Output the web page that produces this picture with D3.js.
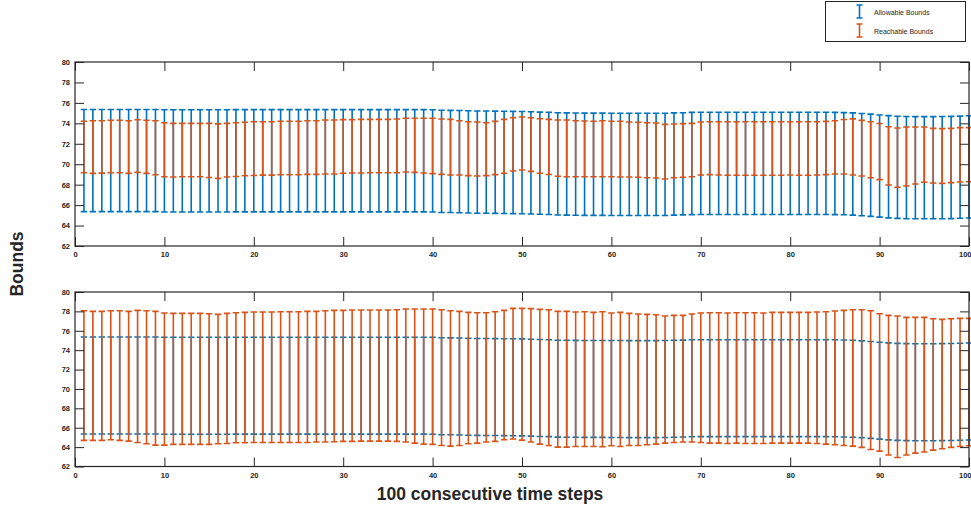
<!DOCTYPE html>
<html>
<head>
<meta charset="utf-8">
<script src="https://cdn.jsdelivr.net/npm/d3@7"></script>
<style>
  html, body { margin: 0; padding: 0; background: #ffffff; }
  svg { display: block; }
  text { font-family: "Liberation Sans", Arial, Helvetica, sans-serif; }
</style>
</head>
<body>
<svg id="chart" width="971" height="515"></svg>
<script>
// ---------------- DATA ----------------
const timeSteps = d3.range(1, 101);

const allowableUpper = [
  75.36,75.36,75.36,75.36,75.36,75.36,75.36,75.36,75.36,75.33,
  75.33,75.33,75.33,75.33,75.33,75.33,75.33,75.34,75.34,75.34,
  75.34,75.34,75.34,75.34,75.34,75.34,75.34,75.34,75.34,75.34,
  75.34,75.34,75.34,75.34,75.34,75.34,75.34,75.34,75.34,75.33,
  75.28,75.27,75.25,75.23,75.21,75.20,75.19,75.18,75.17,75.16,
  75.13,75.10,75.08,75.03,75.02,75.01,75.00,75.00,75.00,74.99,
  74.99,74.98,74.98,74.98,74.98,74.99,75.02,75.04,75.07,75.08,
  75.08,75.08,75.08,75.08,75.08,75.08,75.08,75.08,75.08,75.08,
  75.08,75.08,75.08,75.08,75.07,75.05,75.02,74.96,74.90,74.82,
  74.75,74.70,74.67,74.66,74.66,74.66,74.67,74.68,74.71,74.74
];
const allowableLower = [
  65.36,65.36,65.36,65.36,65.36,65.36,65.36,65.36,65.36,65.33,
  65.33,65.33,65.33,65.33,65.33,65.33,65.33,65.34,65.34,65.34,
  65.34,65.34,65.34,65.34,65.34,65.34,65.34,65.34,65.34,65.34,
  65.34,65.34,65.34,65.34,65.34,65.34,65.34,65.34,65.34,65.33,
  65.28,65.27,65.25,65.23,65.21,65.20,65.19,65.18,65.17,65.16,
  65.13,65.10,65.08,65.03,65.02,65.01,65.00,65.00,65.00,64.99,
  64.99,64.98,64.98,64.98,64.98,64.99,65.02,65.04,65.07,65.08,
  65.08,65.08,65.08,65.08,65.08,65.08,65.08,65.08,65.08,65.08,
  65.08,65.08,65.08,65.08,65.07,65.05,65.02,64.96,64.90,64.82,
  64.75,64.70,64.67,64.66,64.66,64.66,64.67,64.68,64.71,64.74
];

// Top panel: reachable bounds
const reachTopUpper = [
  74.20,74.25,74.25,74.30,74.30,74.25,74.35,74.30,74.25,74.05,
  74.00,74.00,74.00,74.00,74.00,73.95,74.00,74.05,74.10,74.15,
  74.15,74.15,74.20,74.20,74.20,74.26,74.26,74.32,74.32,74.36,
  74.36,74.39,74.39,74.39,74.39,74.42,74.49,74.49,74.49,74.49,
  74.42,74.39,74.26,74.16,74.13,74.06,74.19,74.39,74.55,74.62,
  74.55,74.45,74.39,74.33,74.33,74.26,74.23,74.20,74.26,74.20,
  74.20,74.13,74.10,74.06,74.03,73.90,73.93,73.97,74.00,74.13,
  74.16,74.16,74.16,74.16,74.16,74.16,74.16,74.16,74.16,74.16,
  74.16,74.16,74.16,74.19,74.25,74.37,74.44,74.29,74.16,73.99,
  73.67,73.54,73.64,73.64,73.64,73.51,73.48,73.51,73.58,73.58
];
const reachTopLower = [
  69.17,69.10,69.13,69.17,69.17,69.10,69.20,69.10,68.97,68.78,
  68.75,68.78,68.78,68.78,68.70,68.62,68.75,68.80,68.87,68.90,
  68.93,68.93,68.97,68.97,68.97,69.01,69.01,69.04,69.04,69.11,
  69.14,69.14,69.17,69.17,69.17,69.17,69.24,69.20,69.14,69.08,
  69.01,68.95,68.95,68.88,68.85,68.88,68.98,69.11,69.34,69.43,
  69.30,69.11,69.00,68.82,68.78,68.78,68.78,68.78,68.78,68.78,
  68.75,68.75,68.72,68.68,68.65,68.55,68.68,68.72,68.78,68.95,
  68.98,68.95,68.92,68.92,68.92,68.92,68.92,68.92,68.92,68.95,
  68.92,68.92,68.95,68.98,69.04,69.04,68.95,68.85,68.68,68.49,
  67.97,67.74,67.87,68.06,68.23,68.16,68.13,68.20,68.26,68.29
];

// Bottom panel: reachable bounds
const reachBottomUpper = [
  78.07,78.00,78.00,78.07,78.07,78.00,78.10,78.07,78.00,77.83,
  77.80,77.80,77.80,77.80,77.76,77.69,77.80,77.86,77.90,77.93,
  77.93,77.93,77.97,77.97,77.97,78.00,78.00,78.07,78.10,78.10,
  78.14,78.14,78.14,78.14,78.14,78.17,78.24,78.24,78.24,78.24,
  78.17,78.07,78.00,77.90,77.86,77.86,77.97,78.10,78.31,78.31,
  78.28,78.21,78.17,78.00,78.00,77.93,77.97,77.90,77.97,77.83,
  77.90,77.80,77.73,77.69,77.66,77.52,77.59,77.59,77.73,77.83,
  77.86,77.86,77.83,77.86,77.86,77.86,77.83,77.90,77.90,77.90,
  77.90,77.90,77.93,77.97,78.04,78.10,78.17,78.17,78.07,77.76,
  77.59,77.52,77.38,77.38,77.38,77.24,77.18,77.24,77.28,77.28
];
const reachBottomLower = [
  64.69,64.69,64.69,64.76,64.69,64.62,64.48,64.34,64.21,64.21,
  64.28,64.28,64.28,64.28,64.28,64.34,64.38,64.45,64.45,64.48,
  64.48,64.48,64.48,64.48,64.48,64.48,64.52,64.52,64.55,64.59,
  64.59,64.62,64.62,64.62,64.62,64.59,64.52,64.41,64.31,64.28,
  64.17,64.10,64.17,64.34,64.41,64.52,64.59,64.76,64.83,64.72,
  64.52,64.31,64.17,64.00,64.00,64.07,64.07,64.07,64.03,64.14,
  64.07,64.17,64.17,64.24,64.31,64.41,64.48,64.52,64.52,64.48,
  64.41,64.41,64.38,64.41,64.38,64.38,64.38,64.41,64.41,64.41,
  64.41,64.41,64.38,64.31,64.24,64.17,64.10,63.97,63.76,63.59,
  63.18,62.93,63.18,63.38,63.49,63.69,63.83,63.97,64.07,64.14
];

const xTicks = [0, 10, 20, 30, 40, 50, 60, 70, 80, 90, 100];
const yTicks = [62, 64, 66, 68, 70, 72, 74, 76, 78, 80];
const seriesNames = ["Allowable Bounds", "Reachable Bounds"];
const xLabel = "100 consecutive time steps";
const yLabel = "Bounds";

// ---------------- STYLE ----------------
const BLUE = "#0072BD";
const ORANGE = "#D95319";
const AXIS = "#262626";

const svg = d3.select("#chart");

const panels = [
  { top: 62, bottom: 246, upper: reachTopUpper, lower: reachTopLower },
  { top: 292, bottom: 466.5, upper: reachBottomUpper, lower: reachBottomLower }
];
const left = 75, right = 969;

const x = d3.scaleLinear().domain([0, 100]).range([left, right]);

function drawErrorBars(g, y, up, lo, color) {
  const cap = 3.2;
  const grp = g.append("g").attr("stroke", color).attr("stroke-width", 1.6).attr("fill", "none");
  timeSteps.forEach((t, i) => {
    const cx = x(t);
    const y1 = y(up[i]), y2 = y(lo[i]);
    grp.append("path")
      .attr("d", `M${cx},${y1}L${cx},${y2}M${cx - cap},${y1}L${cx + cap},${y1}M${cx - cap},${y2}L${cx + cap},${y2}`);
  });
}

panels.forEach(p => {
  const y = d3.scaleLinear().domain([62, 80]).range([p.bottom, p.top]);
  const g = svg.append("g");

  // error bars: allowable first, reachable on top
  drawErrorBars(g, y, allowableUpper, allowableLower, BLUE);
  drawErrorBars(g, y, p.upper, p.lower, ORANGE);

  // axes (MATLAB style inward ticks)
  const fmt = d3.format("d");
  const ax = g.append("g").attr("transform", `translate(0,${p.bottom})`)
    .call(d3.axisBottom(x).tickValues(xTicks).tickFormat(fmt).tickSizeInner(-9).tickSizeOuter(0).tickPadding(6));
  const axT = g.append("g").attr("transform", `translate(0,${p.top})`)
    .call(d3.axisTop(x).tickValues(xTicks).tickFormat("").tickSizeInner(-9).tickSizeOuter(0));
  const ay = g.append("g").attr("transform", `translate(${left},0)`)
    .call(d3.axisLeft(y).tickValues(yTicks).tickFormat(fmt).tickSizeInner(-9).tickSizeOuter(0).tickPadding(5));
  const ayR = g.append("g").attr("transform", `translate(${right},0)`)
    .call(d3.axisRight(y).tickValues(yTicks).tickFormat("").tickSizeInner(-9).tickSizeOuter(0));

  [ax, axT, ay, ayR].forEach(a => {
    a.select(".domain").remove();
    a.selectAll(".tick line").attr("stroke", AXIS).attr("stroke-width", 1);
    a.selectAll(".tick text")
      .attr("fill", AXIS)
      .style("font-size", "7.5px")
      .style("font-weight", "bold")
      .style("font-family", '"Liberation Sans", Arial, sans-serif');
  });
  // keep the last x tick label inside the page edge
  ax.selectAll(".tick text").filter(d => d === 100).attr("text-anchor", "end").attr("x", 2);

  g.append("rect")
    .attr("x", left).attr("y", p.top)
    .attr("width", right - left).attr("height", p.bottom - p.top)
    .attr("fill", "none").attr("stroke", AXIS).attr("stroke-width", 1.2);
});

// axis labels
svg.append("text")
  .attr("x", 490).attr("y", 500)
  .attr("text-anchor", "middle")
  .attr("fill", AXIS)
  .style("font-size", "17.5px").style("font-weight", "bold")
  .text(xLabel);

svg.append("text")
  .attr("transform", "translate(23,264) rotate(-90)")
  .attr("text-anchor", "middle")
  .attr("fill", AXIS)
  .style("font-size", "17.5px").style("font-weight", "bold")
  .text(yLabel);

// legend
const lg = svg.append("g");
lg.append("rect")
  .attr("x", 825.5).attr("y", 1.5).attr("width", 140).attr("height", 40)
  .attr("fill", "#fff").attr("stroke", AXIS).attr("stroke-width", 1);
const legendItems = [
  { name: seriesNames[0], color: BLUE, y1: 5, y2: 18, ty: 13 },
  { name: seriesNames[1], color: ORANGE, y1: 24, y2: 37, ty: 31.5 }
];
legendItems.forEach(it => {
  const cx = 859.5, cap = 3;
  lg.append("path")
    .attr("d", `M${cx},${it.y1}L${cx},${it.y2}M${cx - cap},${it.y1}L${cx + cap},${it.y1}M${cx - cap},${it.y2}L${cx + cap},${it.y2}`)
    .attr("stroke", it.color).attr("stroke-width", 1.6).attr("fill", "none");
  lg.append("text")
    .attr("x", 874).attr("y", it.ty).attr("dy", "0.35em")
    .attr("fill", AXIS)
    .style("font-size", "7px")
    .text(it.name);
});
</script>
</body>
</html>
